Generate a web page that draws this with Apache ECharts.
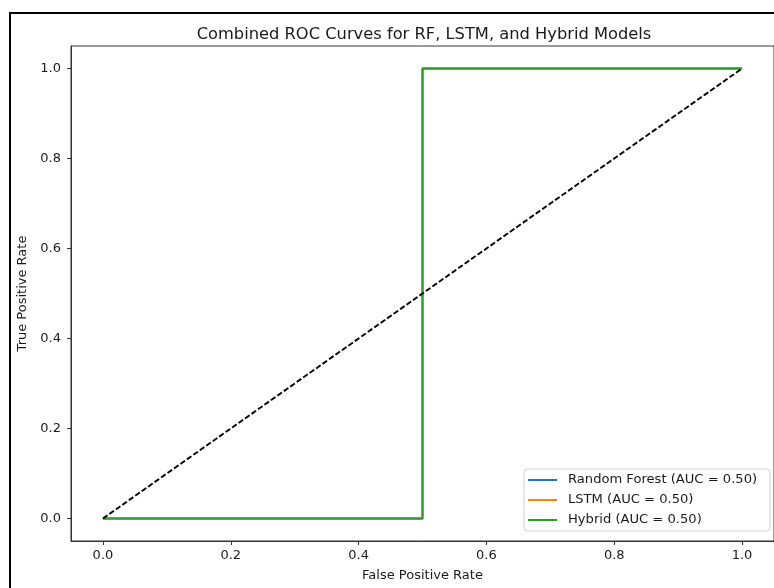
<!DOCTYPE html>
<html>
<head>
<meta charset="utf-8">
<title>Combined ROC Curves</title>
<script src="https://cdn.jsdelivr.net/npm/echarts@6/dist/echarts.min.js"></script>
<style>
  html, body { margin: 0; padding: 0; background: #fff; }
  #chart { width: 774px; height: 588px; }
</style>
</head>
<body>
<div id="chart"></div>
<script>
// ROC points (all three models give the same curve)
var rfFpr = [0, 0.5, 0.5, 1];
var rfTpr = [0, 0, 1, 1];
var lstmFpr = [0, 0.5, 0.5, 1];
var lstmTpr = [0, 0, 1, 1];
var hybridFpr = [0, 0.5, 0.5, 1];
var hybridTpr = [0, 0, 1, 1];
// chance line
var diagX = [0, 1];
var diagY = [0, 1];

var modelNames = ["Random Forest (AUC = 0.50)", "LSTM (AUC = 0.50)", "Hybrid (AUC = 0.50)"];
var tickValues = [0, 0.2, 0.4, 0.6, 0.8, 1.0];

function pairs(xs, ys) {
  var out = [];
  xs.forEach(function (x, i) { out.push([x, ys[i]]); });
  return out;
}

var font = "DejaVu Sans";
var textColor = "#1a1a1a";
var axisColor = "#333";

var myChart = echarts.init(document.getElementById("chart"));

function axis(name, isX) {
  return {
    type: "value",
    min: -0.05,
    max: 1.05,
    name: name,
    nameLocation: "middle",
    nameGap: isX ? 28 : 40,
    nameTextStyle: { fontFamily: font, fontSize: 13, color: textColor },
    axisLine: { show: true, onZero: false, lineStyle: { color: axisColor, width: 1 } },
    axisTick: { show: true, length: 4, customValues: tickValues, lineStyle: { color: axisColor, width: 1 } },
    axisLabel: {
      customValues: tickValues,
      margin: isX ? 8 : 10,
      fontFamily: font,
      fontSize: 13,
      color: textColor,
      formatter: function (v) { return v.toFixed(1); }
    },
    splitLine: { show: false }
  };
}

function rocSeries(name, color, xs, ys) {
  return {
    name: name,
    type: "line",
    data: pairs(xs, ys),
    showSymbol: false,
    symbol: "none",
    lineStyle: { color: color, width: 1.9 },
    itemStyle: { color: color },
    z: 3
  };
}

myChart.setOption({
  animation: false,
  backgroundColor: "#fff",
  title: {
    text: "Combined ROC Curves for RF, LSTM, and Hybrid Models",
    left: 419,
    textAlign: "center",
    top: 22,
    textStyle: { fontFamily: font, fontSize: 16.3, fontWeight: "normal", color: textColor }
  },
  grid: {
    left: 71,
    right: -1,
    top: 46,
    bottom: 47,
    show: true,
    borderColor: axisColor,
    borderWidth: 1
  },
  legend: {
    data: modelNames,
    orient: "vertical",
    left: 524,
    top: 469,
    icon: "rect",
    itemWidth: 29,
    itemHeight: 2,
    itemGap: 2,
    padding: [2, 13, 2, 4],
    backgroundColor: "rgba(255,255,255,0.8)",
    borderColor: "#d0d0d0",
    borderWidth: 1,
    borderRadius: 3,
    textStyle: { fontFamily: font, fontSize: 13.1, color: textColor, lineHeight: 18, padding: [0, 0, 0, 6] }
  },
  xAxis: axis("False Positive Rate", true),
  yAxis: axis("True Positive Rate", false),
  graphic: [
    {
      // figure frame, cut off on the right and bottom
      type: "rect",
      shape: { x: 10, y: 13, width: 900, height: 700 },
      style: { fill: null, stroke: "#000", lineWidth: 2 },
      silent: true
    }
  ],
  series: [
    rocSeries(modelNames[0], "#1f77b4", rfFpr, rfTpr),
    rocSeries(modelNames[1], "#ff7f0e", lstmFpr, lstmTpr),
    rocSeries(modelNames[2], "#2ca02c", hybridFpr, hybridTpr),
    {
      name: "chance",
      type: "line",
      data: pairs(diagX, diagY),
      showSymbol: false,
      symbol: "none",
      lineStyle: { color: "#000", width: 1.9, type: [5.5, 2.4] },
      z: 4
    }
  ]
});

window.addEventListener("resize", function () {
  myChart.resize();
});
</script>
</body>
</html>
